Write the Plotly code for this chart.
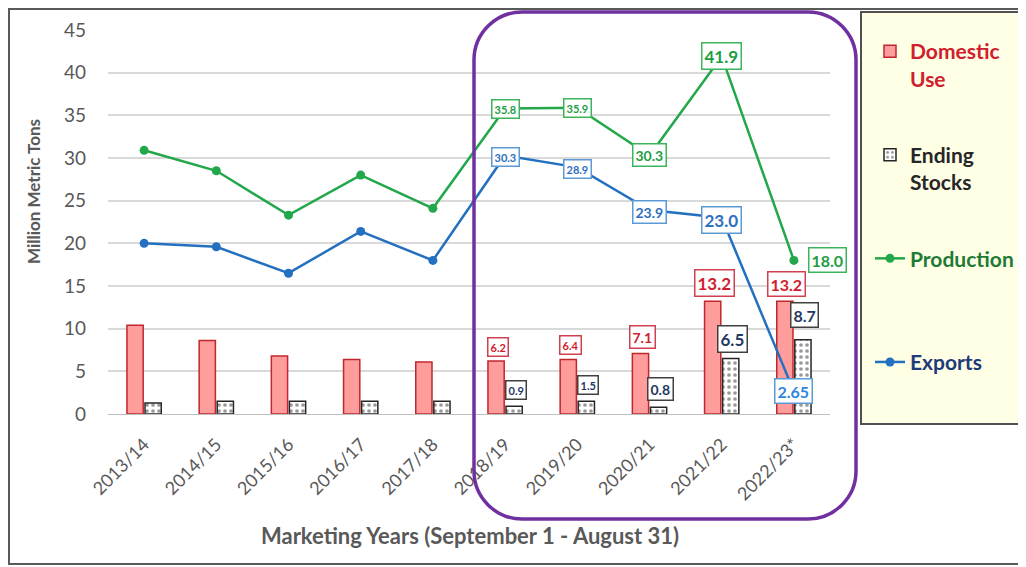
import plotly.graph_objects as go

years = ['2013/14', '2014/15', '2015/16', '2016/17', '2017/18',
         '2018/19', '2019/20', '2020/21', '2021/22', '2022/23*']
domestic_use = [10.4, 8.6, 6.8, 6.4, 6.1, 6.2, 6.4, 7.1, 13.2, 13.2]
ending_stocks = [1.3, 1.5, 1.5, 1.5, 1.5, 0.9, 1.5, 0.8, 6.5, 8.7]
production = [30.9, 28.5, 23.3, 28.0, 24.1, 35.8, 35.9, 30.3, 41.9, 18.0]
exports = [20.0, 19.6, 16.5, 21.4, 18.0, 30.3, 28.9, 23.9, 23.0, 2.65]

FONT = "Lato, 'Open Sans', sans-serif"
GREY = '#595959'
RED = '#D0202E'
NAVY = '#1F3864'
GREEN = '#22A84A'
BLUE = '#2470C0'

# page draws the figure 8px in from the top-left; target plot area on screen: x 108..830, y 30..414
OFF = 8
SX, SY, W, H = 108, 30, 722, 384
L, T = SX - OFF, SY - OFF


def px(x):
    return (x - SX) / W


def py(y):
    return (SY + H - y) / H


fig = go.Figure()

fig.add_trace(go.Bar(
    x=years, y=domestic_use, name='<b><span style="color:%s">Domestic<br>Use</span></b>' % RED,
    legendgroup='a',
    marker=dict(color='#FF9C9C', line=dict(color='#C0272D', width=1.5)),
))
fig.add_trace(go.Bar(
    x=years, y=ending_stocks, name='<b><span style="color:#262626">Ending<br>Stocks</span></b>',
    legendgroup='b',
    marker=dict(color='white', line=dict(color='#262626', width=1.5),
                pattern=dict(shape='.', fgcolor='#333333', bgcolor='white', size=6, solidity=0.3)),
))
fig.add_trace(go.Scatter(
    x=years, y=production, name='<b><span style="color:#1E7B35">Production</span></b><br> ',
    legendgroup='c', mode='lines+markers',
    line=dict(color=GREEN, width=2.5), marker=dict(size=9, color=GREEN),
))
fig.add_trace(go.Scatter(
    x=years, y=exports, name='<b><span style="color:#1F3A7A">Exports</span></b><br> ',
    legendgroup='d', mode='lines+markers',
    line=dict(color=BLUE, width=2.5), marker=dict(size=9, color=BLUE),
))

# data labels for the highlighted years
label_size = {5: 11, 6: 11, 7: 14, 8: 17, 9: 16}
ann = []


def label(i, v, color, border, **kw):
    ann.append(dict(x=years[i], y=v, xref='x', yref='y', text='<b>%s</b>' % v,
                    showarrow=False, font=dict(family=FONT, size=label_size[i], color=color),
                    bgcolor='white', bordercolor=border, borderwidth=1.5, borderpad=2, **kw))


for i in range(5, 10):
    label(i, domestic_use[i], RED, '#D04050', yanchor='bottom', yshift=4, xshift=-7)
    label(i, ending_stocks[i], NAVY, '#404040', yanchor='bottom', yshift=6 if i < 9 else 12, xshift=11)
    if i < 9:
        label(i, production[i], '#1E9E44', '#3CB55A')
        label(i, exports[i], '#2E6FC0', '#5B9BD5', yshift=-2)
    else:
        label(i, production[i], '#1E9E44', '#3CB55A', xshift=34)
        label(i, exports[i], '#2E86DE', '#5B9BD5')

ann.append(dict(x=px(33), y=py(192), xref='paper', yref='paper', text='<b>Million Metric Tons</b>',
                textangle=-90, showarrow=False, xanchor='center', yanchor='middle',
                font=dict(family=FONT, size=17, color=GREY)))
ann.append(dict(x=px(470), y=py(535), xref='paper', yref='paper',
                text='<b>Marketing Years (September 1 - August 31)</b>',
                showarrow=False, xanchor='center', yanchor='middle',
                font=dict(family=FONT, size=22, color=GREY)))

# rounded highlight box
x0, x1, yt, yb = px(474), px(856), py(12), py(519)
rx, ry = 48 / W, 48 / H
k = 0.45
path = (f'M {x0+rx},{yt} L {x1-rx},{yt} '
        f'C {x1-rx*k},{yt} {x1},{yt-ry*k} {x1},{yt-ry} '
        f'L {x1},{yb+ry} C {x1},{yb+ry*k} {x1-rx*k},{yb} {x1-rx},{yb} '
        f'L {x0+rx},{yb} C {x0+rx*k},{yb} {x0},{yb+ry*k} {x0},{yb+ry} '
        f'L {x0},{yt-ry} C {x0},{yt-ry*k} {x0+rx*k},{yt} {x0+rx},{yt} Z')

shapes = [
    dict(type='rect', xref='paper', yref='paper', x0=px(9), x1=px(1023), y0=py(564), y1=py(9),
         line=dict(color='#595959', width=2), layer='below'),
    dict(type='rect', xref='paper', yref='paper', x0=px(861), x1=px(1022), y0=py(424), y1=py(12),
         line=dict(color='#505050', width=2), fillcolor='#FFFFE6', layer='below'),
    dict(type='path', xref='paper', yref='paper', path=path,
         line=dict(color='#7030A0', width=3.5), layer='above'),
]

fig.update_layout(
    width=1026, height=567,
    margin=dict(l=L, r=1026 - L - W, t=T, b=567 - T - H, autoexpand=False),
    plot_bgcolor='white', paper_bgcolor='white',
    font=dict(family=FONT, color=GREY),
    barmode='group', bargap=0.5, bargroupgap=0.1,
    annotations=ann, shapes=shapes,
    legend=dict(x=px(870), y=py(31), xanchor='left', yanchor='top',
                bgcolor='rgba(0,0,0,0)', font=dict(family=FONT, size=21),
                tracegroupgap=46, valign='top'),
    xaxis=dict(range=[-0.5, 9.5], tickangle=-45, tickfont=dict(size=18, color=GREY), showgrid=False,
               showline=True, linecolor='#BFBFBF', linewidth=1, ticklabelstandoff=12),
    yaxis=dict(range=[0, 45], dtick=5, tickfont=dict(size=19, color=GREY),
               gridcolor='#D9D9D9', gridwidth=1.5, zeroline=False, showline=False,
               ticklabelstandoff=21),
)

fig.write_html("out.html")
